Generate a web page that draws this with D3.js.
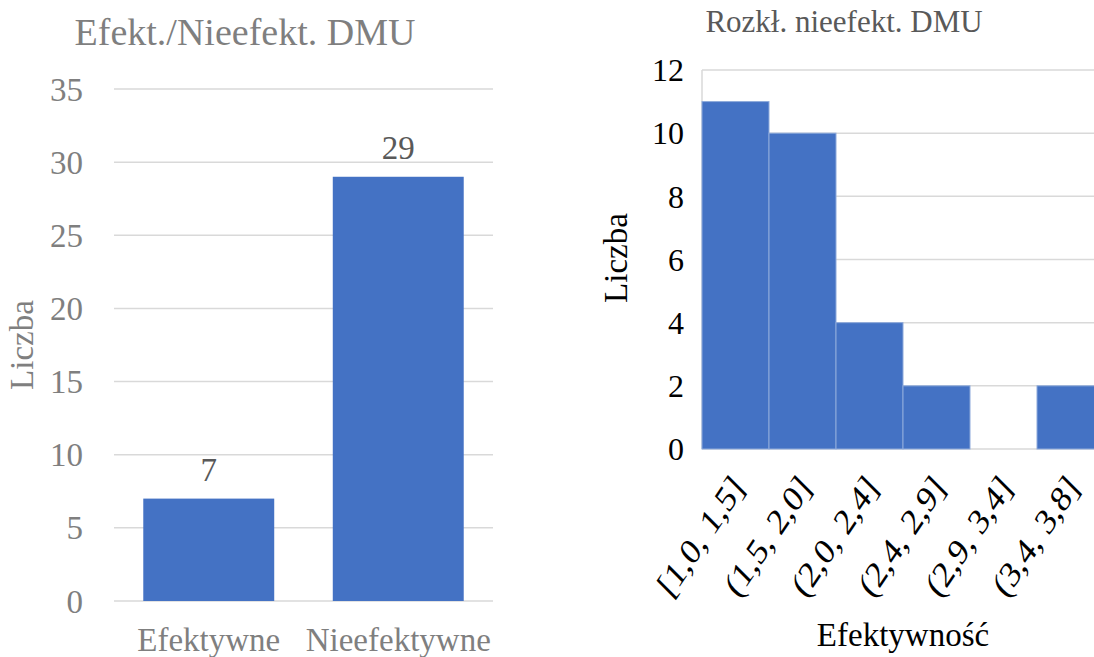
<!DOCTYPE html>
<html>
<head>
<meta charset="utf-8">
<script src="https://cdn.jsdelivr.net/npm/d3@7"></script>
<style>
  body { margin: 0; background: #fff; }
  svg text { font-family: "Liberation Serif", "Times New Roman", serif; }
</style>
</head>
<body>
<svg id="chart" width="1094" height="657"></svg>
<script>
// left chart data
var kategorie = ["Efektywne", "Nieefektywne"];
var liczby = [7, 29];
var lewyTicks = [0, 5, 10, 15, 20, 25, 30, 35];

// right chart data (histogram)
var przedzialy = ["[1,0, 1,5]", "(1,5, 2,0]", "(2,0, 2,4]", "(2,4, 2,9]", "(2,9, 3,4]", "(3,4, 3,8]"];
var czestosci = [11, 10, 4, 2, 0, 2];
var prawyTicks = [0, 2, 4, 6, 8, 10, 12];

var niebieski = "#4472c4";
var siatka = "#d9d9d9";

var svg = d3.select("#chart");

// ---------- left chart ----------
var lewy = svg.append("g");

var x1 = d3.scaleBand()
    .domain(kategorie)
    .range([114, 493])
    .paddingInner(0.309)
    .paddingOuter(0.1545);

var y1 = d3.scaleLinear()
    .domain([0, 35])
    .range([601, 89]);

lewy.selectAll(".grid")
    .data(lewyTicks)
    .enter()
    .append("line")
    .attr("x1", 114)
    .attr("x2", 493)
    .attr("y1", function (d) { return y1(d); })
    .attr("y2", function (d) { return y1(d); })
    .attr("stroke", siatka)
    .attr("stroke-width", 1.5);

lewy.selectAll(".tick1")
    .data(lewyTicks)
    .enter()
    .append("text")
    .attr("x", 83)
    .attr("y", function (d) { return y1(d); })
    .attr("dy", "0.35em")
    .attr("text-anchor", "end")
    .attr("font-size", "33px")
    .attr("fill", "#7f7f7f")
    .text(function (d) { return d; });

lewy.selectAll(".bar1")
    .data(liczby)
    .enter()
    .append("rect")
    .attr("x", function (d, i) { return x1(kategorie[i]); })
    .attr("width", x1.bandwidth())
    .attr("y", function (d) { return y1(d); })
    .attr("height", function (d) { return y1(0) - y1(d); })
    .attr("fill", niebieski);

lewy.selectAll(".lab1")
    .data(liczby)
    .enter()
    .append("text")
    .attr("x", function (d, i) { return x1(kategorie[i]) + x1.bandwidth() / 2; })
    .attr("y", function (d) { return y1(d) - 18; })
    .attr("text-anchor", "middle")
    .attr("font-size", "33px")
    .attr("fill", "#595959")
    .text(function (d) { return d; });

lewy.selectAll(".kat")
    .data(kategorie)
    .enter()
    .append("text")
    .attr("x", function (d) { return x1(d) + x1.bandwidth() / 2; })
    .attr("y", 651)
    .attr("text-anchor", "middle")
    .attr("font-size", "33px")
    .attr("fill", "#7f7f7f")
    .text(function (d) { return d; });

lewy.append("text")
    .attr("x", 245)
    .attr("y", 45)
    .attr("text-anchor", "middle")
    .attr("font-size", "38px")
    .attr("fill", "#7f7f7f")
    .text("Efekt./Nieefekt. DMU");

lewy.append("text")
    .attr("transform", "translate(33,345) rotate(-90)")
    .attr("text-anchor", "middle")
    .attr("font-size", "33px")
    .attr("fill", "#7f7f7f")
    .text("Liczba");

// ---------- right chart ----------
var prawy = svg.append("g");

var x2 = d3.scaleBand()
    .domain(przedzialy)
    .range([702, 1104])
    .padding(0);

var y2 = d3.scaleLinear()
    .domain([0, 12])
    .range([449, 70]);

prawy.selectAll(".grid2")
    .data(prawyTicks)
    .enter()
    .append("line")
    .attr("x1", 702)
    .attr("x2", 1104)
    .attr("y1", function (d) { return y2(d); })
    .attr("y2", function (d) { return y2(d); })
    .attr("stroke", siatka)
    .attr("stroke-width", 1.5);

prawy.append("line")
    .attr("x1", 702)
    .attr("x2", 702)
    .attr("y1", y2(12))
    .attr("y2", y2(0))
    .attr("stroke", siatka)
    .attr("stroke-width", 1.5);

prawy.selectAll(".tick2")
    .data(prawyTicks)
    .enter()
    .append("text")
    .attr("x", 684)
    .attr("y", function (d) { return y2(d); })
    .attr("dy", "0.35em")
    .attr("text-anchor", "end")
    .attr("font-size", "32px")
    .attr("fill", "#000")
    .text(function (d) { return d; });

prawy.selectAll(".bar2")
    .data(czestosci)
    .enter()
    .append("rect")
    .attr("x", function (d, i) { return x2(przedzialy[i]); })
    .attr("width", x2.bandwidth())
    .attr("y", function (d) { return y2(d); })
    .attr("height", function (d) { return y2(0) - y2(d); })
    .attr("fill", niebieski)
    .attr("stroke", "#8eaadb")
    .attr("stroke-width", function (d) { return d > 0 ? 1 : 0; });

// rotated bin labels: the reference text runs a bit steeper than 45deg
prawy.selectAll(".lab2")
    .data(przedzialy)
    .enter()
    .append("text")
    .attr("transform", function (d) {
        return "translate(" + (x2(d) + x2.bandwidth() / 2 + 10) + ",489) matrix(0.615,-0.912,0.707,0.707,0,0)";
    })
    .attr("text-anchor", "end")
    .attr("font-size", "33px")
    .attr("fill", "#000")
    .text(function (d) { return d; });

prawy.append("text")
    .attr("x", 844)
    .attr("y", 32)
    .attr("text-anchor", "middle")
    .attr("font-size", "31px")
    .attr("fill", "#595959")
    .text("Rozkł. nieefekt. DMU");

prawy.append("text")
    .attr("transform", "translate(627,258) rotate(-90)")
    .attr("text-anchor", "middle")
    .attr("font-size", "33px")
    .attr("fill", "#000")
    .text("Liczba");

prawy.append("text")
    .attr("x", 903)
    .attr("y", 646)
    .attr("text-anchor", "middle")
    .attr("font-size", "33px")
    .attr("fill", "#000")
    .text("Efektywność");
</script>
</body>
</html>
